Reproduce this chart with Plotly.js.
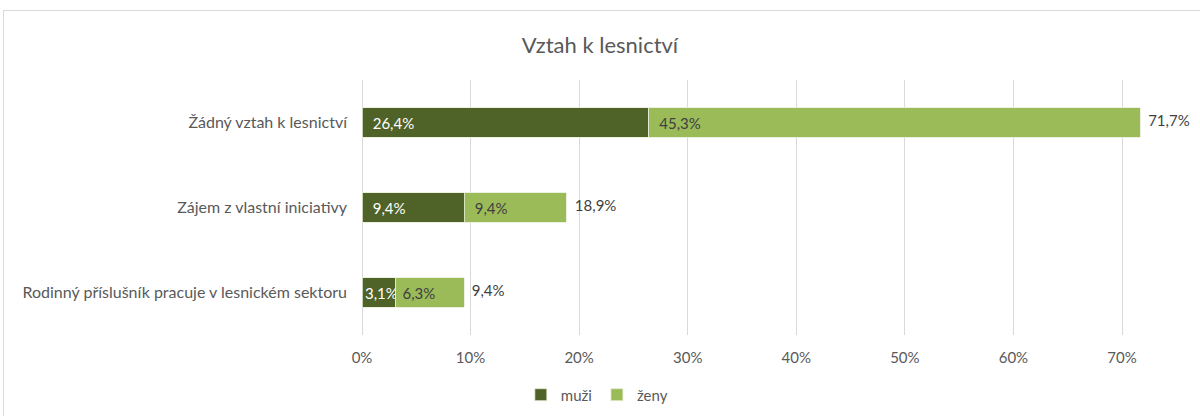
<!DOCTYPE html>
<html><head><meta charset="utf-8">
<script src="https://cdn.plot.ly/plotly-3.0.1.min.js"></script>
<style>
body{margin:0;background:#fff;}
#chart{width:1200px;height:416px;}
#frame{position:absolute;left:3px;top:10px;width:1205px;height:420px;border-left:1px solid #d9d9d9;border-top:1px solid #d9d9d9;pointer-events:none;}
</style></head>
<body>
<div id="chart"></div>
<div id="frame"></div>
<script>
const categories = ["Žádný vztah k lesnictví", "Zájem z vlastní iniciativy", "Rodinný příslušník pracuje v lesnickém sektoru"];
const muzi = [0.264, 0.094, 0.031];
const zeny = [0.453, 0.094, 0.063];
const celkem = [0.717, 0.189, 0.094];
const xTicks = [0, 0.1, 0.2, 0.3, 0.4, 0.5, 0.6, 0.7];
const seriesNames = ["muži", "ženy"];

const NB = "\u00a0";
const font = "Lato, 'Open Sans', sans-serif";

const traces = [
  {
    type: "bar", orientation: "h", name: seriesNames[0],
    y: categories, x: muzi,
    marker: {color: "#4f6228", line: {color: "#e6eed6", width: 0.8}},
    texttemplate: [NB+NB+"%{x:.1%}", NB+NB+"%{x:.1%}", "%{x:.1%}"],
    textposition: "inside", insidetextanchor: "start", constraintext: "none",
    textfont: {color: "#ffffff", size: 15, family: font},
    hoverinfo: "x+y"
  },
  {
    type: "bar", orientation: "h", name: seriesNames[1],
    y: categories, x: zeny,
    marker: {color: "#9bbb59", line: {color: "#e6eed6", width: 0.8}},
    texttemplate: [NB+NB+"%{x:.1%}", NB+NB+"%{x:.1%}", NB+"%{x:.1%}"],
    textposition: "inside", insidetextanchor: "start", constraintext: "none",
    textfont: {color: "#404040", size: 15, family: font},
    hoverinfo: "x+y"
  },
  {
    type: "scatter", mode: "text", showlegend: false,
    y: categories, x: celkem,
    texttemplate: NB+NB+"%{x:.1%}", textposition: "middle right",
    textfont: {color: "#404040", size: 15, family: font},
    cliponaxis: false, hoverinfo: "skip"
  }
];

const layout = {
  width: 1200, height: 416,
  paper_bgcolor: "#ffffff", plot_bgcolor: "#ffffff",
  separators: ", ",
  barmode: "stack", bargap: 0.65,
  font: {family: font, color: "#595959", size: 15},
  margin: {l: 362, r: 2, t: 80, b: 81, autoexpand: false},
  title: {text: "Vztah k lesnictví", x: 0.5, xanchor: "center", xref: "container",
          y: 1 - 45/416, yref: "container", yanchor: "middle",
          font: {size: 22, color: "#595959", family: font}},
  xaxis: {range: [0, 0.77], tickvals: xTicks, tickformat: ".0%",
          showgrid: true, gridcolor: "#d9d9d9", gridwidth: 1,
          zeroline: true, zerolinecolor: "#d9d9d9", showline: false,
          ticks: "", ticklabelstandoff: 12, fixedrange: true, automargin: false,
          tickangle: 0, tickfont: {size: 15, color: "#595959"}},
  yaxis: {autorange: "reversed", type: "category", showgrid: false,
          zeroline: false, showline: false, ticks: "", ticklabelstandoff: 14,
          automargin: false,
          tickfont: {size: 16, color: "#595959"}, fixedrange: true},
  legend: {orientation: "h", x: 0.19, xanchor: "left", itemwidth: 30,
           y: -0.235, yanchor: "middle", font: {size: 15, color: "#595959"},
           traceorder: "normal"},
  showlegend: true
};

Plotly.newPlot("chart", traces, layout, {displayModeBar: false, staticPlot: true});
</script>
</body></html>
